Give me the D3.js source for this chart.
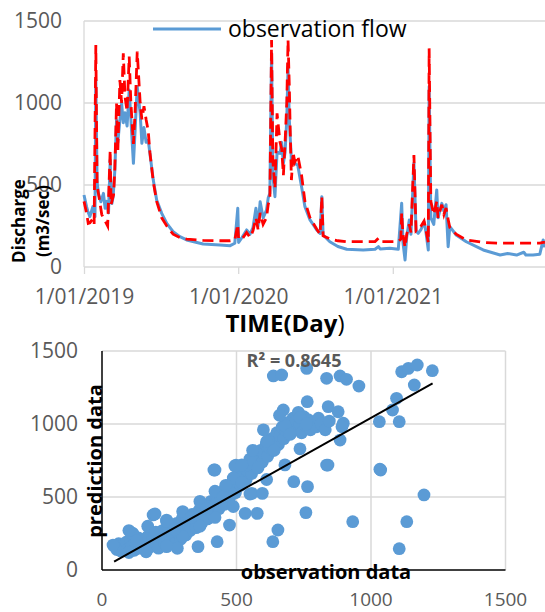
<!DOCTYPE html>
<html><head><meta charset="utf-8">
<script src="https://cdn.jsdelivr.net/npm/d3@7/dist/d3.min.js"></script>
<style>
html,body{margin:0;padding:0;background:#fff;}
svg{display:block;}
text{font-family:"Open Sans","Noto Sans",sans-serif;}
</style></head>
<body>
<svg id="c" width="545" height="612"></svg>
<script>
// ---------- DATA ----------
const startDate = "2019-01-01";
const endDate = "2022-01-01";
const timeTicks = ["2019-01-01", "2020-01-01", "2021-01-01"];
const flowTicks = [0, 500, 1000, 1500];

// observation flow (blue) : day since 1/01/2019, discharge m3/s
const obsDay = [0,6,9,14,21,26,28,31,34,40,46,50,54,58,62,64,66,69,73,77,80,85,89,93,97,102,107,111,117,121,126,133,137,142,147,152,156,164,172,184,196,211,227,243,282,322,346,357,364,366,374,385,393,400,407,412,417,424,432,436,440,444,447,452,457,464,468,472,476,480,483,486,488,491,495,499,506,515,523,535,551,559,563,566,582,601,622,661,689,697,701,724,744,752,755,760,764,770,774,781,786,791,798,805,809,815,817,821,828,835,838,847,852,857,862,866,881,905,945,985,1003,1024,1041,1046,1063,1079,1087,1091];
const obsFlow = [439,368,340,307,368,307,1140,520,449,398,449,358,400,330,652,400,388,430,591,896,760,896,998,880,940,860,1079,900,632,835,1100,937,754,850,760,774,693,530,408,327,266,215,185,165,140,134,130,145,358,150,180,226,200,240,358,250,398,300,347,420,449,1303,560,429,700,693,760,632,700,900,1221,900,795,650,640,632,620,490,368,287,226,205,429,195,154,125,108,104,108,124,110,115,108,388,150,43,185,287,200,632,220,205,230,276,220,104,1100,300,260,470,300,388,340,380,124,246,195,154,104,73,82,73,90,73,73,78,165,120];

// simulated flow (red dashed)
const simDay = [0,6,10,14,20,24,28,31,36,42,50,56,62,64,70,73,77,80,85,89,93,97,102,107,111,117,121,126,133,137,142,147,152,156,164,172,184,196,211,227,243,282,322,346,357,364,366,374,385,393,400,407,412,417,424,432,436,440,444,447,452,457,464,468,472,476,480,483,486,488,491,495,499,506,515,523,535,551,559,563,566,582,601,622,661,689,697,701,724,744,750,752,755,760,764,770,774,781,786,791,798,805,809,815,817,821,828,835,838,847,852,857,862,866,881,905,945,985,1024,1063,1079,1087,1091];
const simFlow = [400,330,266,270,290,260,1354,500,420,320,280,250,713,380,440,600,1000,700,1140,1000,1303,1040,950,1283,1000,750,950,1313,1000,900,980,900,830,700,520,400,300,250,200,180,170,162,160,160,165,260,170,170,210,180,220,300,230,330,260,300,380,420,1384,650,480,937,760,720,560,760,1000,1384,1100,850,530,700,640,680,560,400,300,230,200,429,190,171,160,154,155,155,175,155,155,155,170,330,200,120,200,260,210,683,220,230,250,280,230,150,1333,400,320,400,300,380,320,360,290,240,200,165,150,145,145,145,145,150,150];

// scatter: observation vs prediction
const scatterObs = [45,55,62,70,80,90,95,105,110,115,120,128,135,140,150,155,165,170,180,188,195,200,210,215,225,232,240,248,255,262,270,278,285,292,300,305,312,320,328,335,342,350,356,362,370,378,385,392,400,405,412,420,428,435,442,450,456,462,470,476,484,490,496,504,510,516,522,530,536,542,550,556,562,570,576,582,590,596,602,610,616,622,630,636,642,650,656,662,670,676,682,690,696,702,710,716,722,730,736,742,750,758,766,775,784,795,805,815,830,845,
  41,112,164,190,241,299,280,357,428,474,416,498,538,461,557,596,532,577,635,654,713,764,758,835,932,1036,1197,1133,1105,1031,1033,1080,1095,1105,1161,1114,1139,1172,1228,637,668,761,835,885,909,955,674,618,763,841,878,897,840,885,892,420,494,389,315,197,240,
  100,160,240,300,364,420,488,550,612,680,736,100,170,240,300,364,420,488,550,612,680,736,130,200,270,330,390,450,520,580,640,700,760,600,660,560,520,460];
const scatterPred = [165,140,180,130,155,190,140,210,160,250,135,185,220,150,175,200,130,230,160,210,250,180,150,230,270,190,160,300,220,250,180,320,260,210,290,350,240,310,270,380,330,290,360,410,320,370,440,350,410,470,380,450,500,420,480,540,450,520,580,500,560,610,530,600,660,580,640,700,620,680,740,660,720,780,700,760,820,740,800,860,780,840,900,820,880,940,860,920,980,900,960,1010,930,990,1040,960,1020,1080,1000,940,1050,990,1030,960,1010,980,1040,1000,960,1020,
  171,251,125,377,331,354,149,160,194,308,685,719,719,536,525,525,388,388,194,274,605,571,393,719,331,685,514,331,146,1016,690,1096,1176,1016,1267,1358,1381,1404,1365,1329,1336,1381,1313,1329,1306,1260,1096,884,1153,1119,1084,1005,719,890,981,685,712,438,365,384,342,
  120,140,165,230,300,360,435,520,620,720,830,270,300,335,400,470,540,630,760,880,990,1045,200,260,280,360,420,500,600,700,820,930,1000,960,1060,820,720,580];
const scatterTicks = [0, 500, 1000, 1500];
const trendObs = [45, 1229];
const trendPred = [57, 1279];
const r2Label = "R² = 0.8645";

// ---------- COLORS ----------
const BLUE = "#5B9BD5", RED = "#FF0000", GRID = "#D9D9D9", TXT = "#595959";

const svg = d3.select("#c");
const parse = d3.timeParse("%Y-%m-%d");
const t0 = parse(startDate);

// ================= TOP CHART =================
const xT = d3.scaleTime().domain([t0, parse(endDate)]).range([84, 547]);
const yT = d3.scaleLinear().domain([0, 1500]).range([267, 21]);
const gTop = svg.append("g");

gTop.selectAll("line.g").data(flowTicks.filter(d => d > 0)).join("line")
  .attr("x1", 84).attr("x2", 545).attr("y1", d => yT(d)).attr("y2", d => yT(d))
  .attr("stroke", GRID).attr("stroke-width", 1.3);
gTop.append("line").attr("x1", 84).attr("x2", 84).attr("y1", yT(1500)).attr("y2", yT(0))
  .attr("stroke", GRID).attr("stroke-width", 1.3);
const xAxT = d3.axisBottom(xT).tickValues(timeTicks.map(parse)).tickSize(7).tickSizeOuter(0)
  .tickFormat(d3.timeFormat("%-d/%m/%Y"));
const gx = gTop.append("g").attr("transform", `translate(0,${yT(0)})`).call(xAxT);
gx.select(".domain").attr("stroke", GRID).attr("stroke-width", 1.3).attr("d", `M84,0H545`);
gx.selectAll(".tick line").attr("stroke", GRID).attr("stroke-width", 1.3);
gx.selectAll(".tick text").attr("fill", TXT).attr("font-size", 21).attr("dy", null).attr("y", 37)
  .attr("font-family", '"Open Sans",sans-serif');
gTop.selectAll("text.yl").data(flowTicks).join("text")
  .attr("x", 62).attr("y", d => yT(d)).attr("dy", "0.35em").attr("text-anchor", "end")
  .attr("fill", TXT).attr("font-size", 21).text(d => d);

const dateOf = d => d3.timeDay.offset(t0, d);
const line = d3.line().x(d => xT(dateOf(d[0]))).y(d => yT(d[1]));
gTop.append("path").datum(d3.zip(obsDay, obsFlow)).attr("d", line)
  .attr("fill", "none").attr("stroke", BLUE).attr("stroke-width", 3).attr("stroke-linejoin", "round");
gTop.append("path").datum(d3.zip(simDay, simFlow)).attr("d", line)
  .attr("fill", "none").attr("stroke", RED).attr("stroke-width", 2.8).attr("stroke-dasharray", "11,6");

gTop.append("line").attr("x1", 153).attr("x2", 221).attr("y1", 29).attr("y2", 29)
  .attr("stroke", BLUE).attr("stroke-width", 3);
gTop.append("text").attr("x", 228).attr("y", 29).attr("dy", "0.35em").attr("font-size", 23)
  .attr("fill", "#000").text("observation flow");

gTop.append("text").attr("transform", "translate(25,221) rotate(-90)").attr("text-anchor", "middle")
  .attr("font-size", 17).attr("font-weight", "bold").attr("fill", "#000").text("Discharge");
gTop.append("text").attr("transform", "translate(49,221) rotate(-90)").attr("text-anchor", "middle")
  .attr("font-size", 17).attr("font-weight", "bold").attr("fill", "#000").text("(m3/sec)");
const tt = gTop.append("text").attr("x", 285).attr("y", 324).attr("dy", "0.35em").attr("text-anchor", "middle")
  .attr("font-size", 24).attr("fill", "#000");
tt.append("tspan").attr("font-weight", "bold").text("TIME(Day");
tt.append("tspan").text(")");

// ================= SCATTER =================
const xS = d3.scaleLinear().domain([0, 1500]).range([102, 505.5]);
const yS = d3.scaleLinear().domain([0, 1500]).range([570, 351]);
const gBot = svg.append("g");
gBot.selectAll("line.gh").data(scatterTicks.filter(d => d > 0)).join("line")
  .attr("x1", xS(0)).attr("x2", xS(1500)).attr("y1", d => yS(d)).attr("y2", d => yS(d))
  .attr("stroke", GRID).attr("stroke-width", 1.5);
gBot.selectAll("line.gv").data(scatterTicks.filter(d => d > 0)).join("line")
  .attr("y1", yS(0)).attr("y2", yS(1500)).attr("x1", d => xS(d)).attr("x2", d => xS(d))
  .attr("stroke", GRID).attr("stroke-width", 1.5);

gBot.selectAll("circle").data(d3.zip(scatterObs, scatterPred)).join("circle")
  .attr("cx", d => xS(d[0])).attr("cy", d => yS(d[1])).attr("r", 6.4).attr("fill", BLUE);

gBot.append("line").attr("x1", xS(trendObs[0])).attr("y1", yS(trendPred[0]))
  .attr("x2", xS(trendObs[1])).attr("y2", yS(trendPred[1])).attr("stroke", "#000").attr("stroke-width", 2);

gBot.append("line").attr("x1", xS(0)).attr("x2", xS(0)).attr("y1", yS(1500)).attr("y2", yS(0))
  .attr("stroke", "#000").attr("stroke-width", 1.5);
gBot.append("line").attr("x1", xS(0)).attr("x2", xS(1500)).attr("y1", yS(0)).attr("y2", yS(0))
  .attr("stroke", "#000").attr("stroke-width", 1.5);

gBot.selectAll("text.xl").data(scatterTicks).join("text")
  .attr("x", d => xS(d)).attr("y", 606).attr("text-anchor", "middle")
  .attr("fill", TXT).attr("font-size", 19).text(d => d);
gBot.selectAll("text.yl").data(scatterTicks).join("text")
  .attr("x", 78).attr("y", d => yS(d)).attr("dy", "0.35em").attr("text-anchor", "end")
  .attr("fill", TXT).attr("font-size", 21).text(d => d);

gBot.append("text").attr("x", 294).attr("y", 361).attr("dy", "0.35em").attr("text-anchor", "middle")
  .attr("font-size", 18).attr("font-weight", "bold").attr("fill", TXT).text(r2Label);
gBot.append("text").attr("x", 326).attr("y", 579).attr("text-anchor", "middle")
  .attr("font-size", 20).attr("font-weight", "bold").attr("fill", "#000").text("observation data");
gBot.append("text").attr("transform", "translate(95,461) rotate(-90)").attr("dy", "0.35em").attr("text-anchor", "middle")
  .attr("font-size", 20).attr("font-weight", "bold").attr("fill", "#000").text("prediction data");
</script>
</body></html>
